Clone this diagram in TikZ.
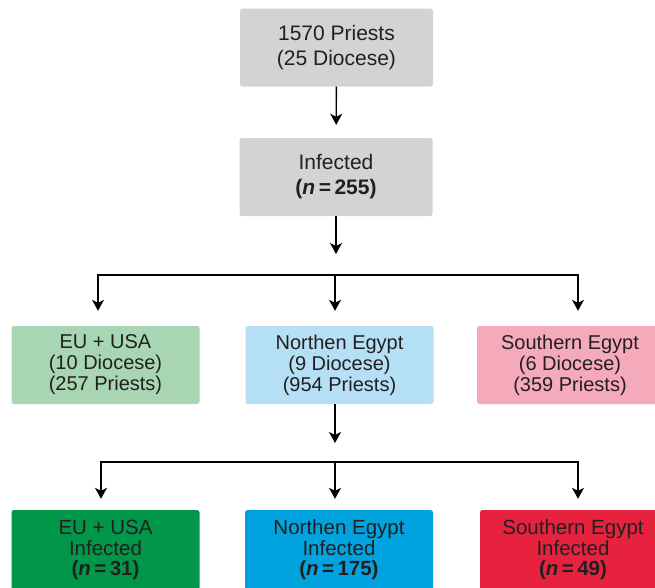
\documentclass[tikz,border=0pt]{standalone}
\usepackage{fontspec}
\setmainfont{Liberation Sans}
\usetikzlibrary{arrows.meta}
\definecolor{boxgray}{HTML}{D2D3D5}
\definecolor{eulight}{HTML}{A9D6B2}
\definecolor{northlight}{HTML}{B4DFF4}
\definecolor{southlight}{HTML}{F5AABB}
\definecolor{eudark}{HTML}{00974A}
\definecolor{northdark}{HTML}{00A3DD}
\definecolor{southdark}{HTML}{E6223F}
\definecolor{textdark}{HTML}{231F20}
\newcommand{\ncount}[1]{\textbf{(\textit{n}\,=\,#1)}}

\begin{document}
\begin{tikzpicture}[x=1pt,y=-1pt,
    box/.style={rectangle, rounded corners=2.5pt, minimum width=188pt,
      minimum height=78pt, inner sep=0pt, align=center, text=textdark,
      font=\fontsize{20}{21}\selectfont},
    topbox/.style={box, fill=boxgray, minimum width=193pt,
      font=\fontsize{21}{25}\selectfont},
    infbox/.style={box, minimum height=80pt, font=\fontsize{20.5}{20.5}\selectfont},
    link/.style={line width=1.4pt, -{Stealth[length=11pt,width=12pt,inset=3pt]}}]
    \clip (0,0) rectangle (655,587);
    % Whole sample
    \node[topbox] (top) at (336.5,47.5) {1570 Priests\\(25 Diocese)};
    \node[topbox] (infected) at (336,177) {Infected\\\ncount{255}};
    % Regions
    \node[box, fill=eulight] (eu) at (105.5,365) {EU + USA\\(10 Diocese)\\(257 Priests)};
    \node[box, fill=northlight] (north) at (339.5,365) {Northen Egypt\\(9 Diocese)\\(954 Priests)};
    \node[box, fill=southlight, minimum width=186pt] (south) at (570,365) {Southern Egypt\\(6 Diocese)\\(359 Priests)};
    % Infected per region
    \node[infbox, fill=eudark] (euinf) at (105.5,550)
      {EU + USA\\Infected\\\ncount{31}};
    \node[infbox, fill=northdark] (northinf) at (339,550)
      {Northen Egypt\\Infected\\\ncount{175}};
    \node[infbox, fill=southdark, minimum width=186pt] (southinf) at (573,550)
      {Southern Egypt\\Infected\\\ncount{49}};
    %
    % Split points
    \coordinate (split1) at (336,254);
    \coordinate (bar1l) at (98,275);
    \coordinate (bar1c) at (335,275);
    \coordinate (bar1r) at (578,275);
    \coordinate (split2) at (335,443);
    \coordinate (bar2l) at (101,462);
    \coordinate (bar2c) at (335,462);
    \coordinate (bar2r) at (578,462);
    %
    % Connectors
    \draw[link, shorten >=13pt] (top) -- (infected);
    \draw[link] (infected) -- (split1);
    \draw[link, shorten >=15pt] (bar1c) -| (bar1l |- eu.north);
    \draw[link, shorten >=15pt] (bar1c) -- (bar1c |- north.north);
    \draw[link, shorten >=15pt] (bar1c) -| (bar1r |- south.north);
    \draw[link] (split2 |- north.south) -- (split2);
    \draw[link, shorten >=11pt] (bar2c) -| (bar2l |- euinf.north);
    \draw[link, shorten >=11pt] (bar2c) -- (bar2c |- northinf.north);
    \draw[link, shorten >=11pt] (bar2c) -| (bar2r |- southinf.north);
\end{tikzpicture}
\end{document}
